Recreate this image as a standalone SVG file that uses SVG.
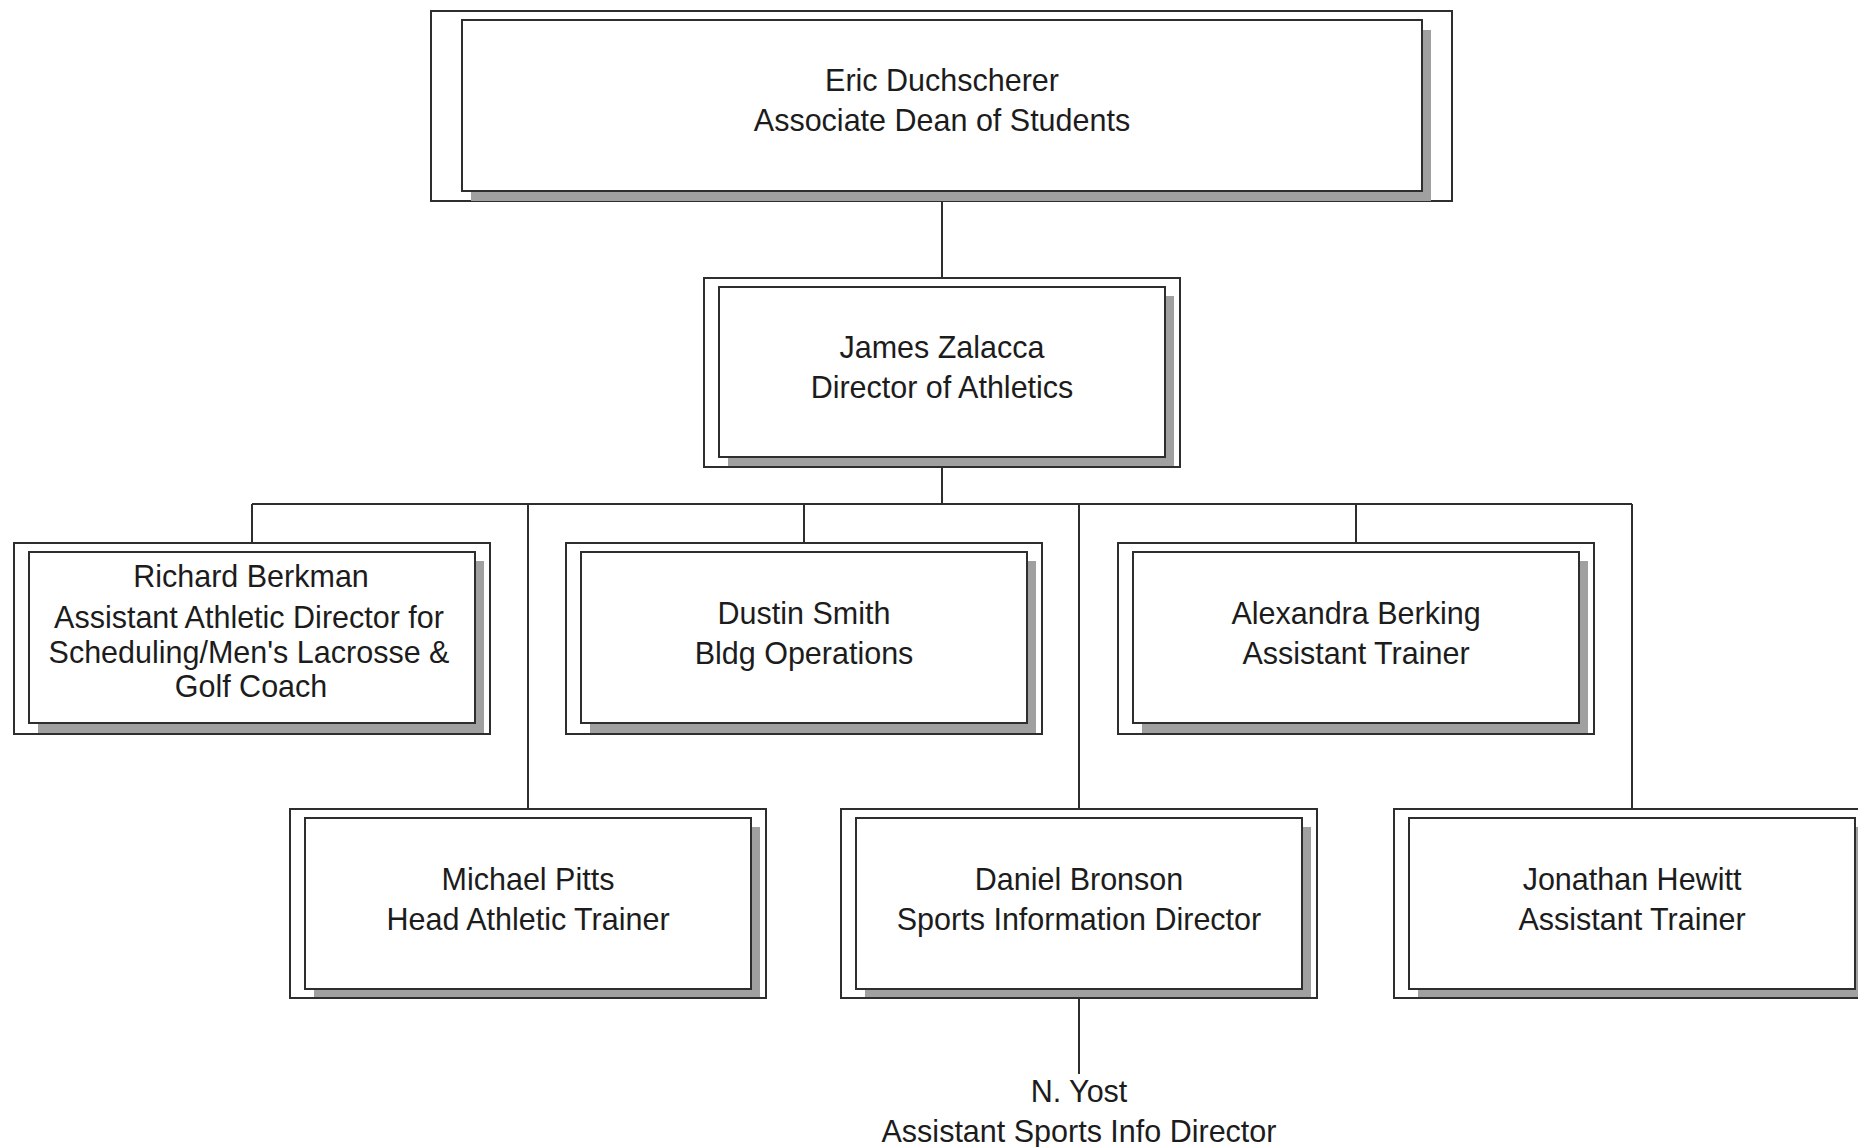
<svg xmlns="http://www.w3.org/2000/svg" width="1858" height="1147" viewBox="0 0 1858 1147">
<style>
.outer{fill:#ffffff;stroke:#2e2e2e;stroke-width:2}
.inner{fill:#ffffff;stroke:#2e2e2e;stroke-width:2}
.shadow{fill:#a0a0a0;stroke:none}
.lbl{font-family:"Liberation Sans",Arial,sans-serif;font-size:30.5px;fill:#1c1c1c;text-anchor:middle}
.conn{fill:none;stroke:#2e2e2e;stroke-width:2}
</style>
<rect x="0" y="0" width="1858" height="1147" fill="#ffffff"/>
<g id="connectors">
<path class="conn" d="M942 200 V278"/>
<path class="conn" d="M942 467 V504"/>
<path class="conn" d="M252 504 H1632"/>
<path class="conn" d="M252 504 V543"/>
<path class="conn" d="M528 504 V809"/>
<path class="conn" d="M804 504 V543"/>
<path class="conn" d="M1079 504 V809"/>
<path class="conn" d="M1356 504 V543"/>
<path class="conn" d="M1632 504 V809"/>
<path class="conn" d="M1079 998 V1074"/>
</g>
<g id="node-eric">
<rect class="outer" x="431" y="11" width="1021" height="190"/>
<rect class="shadow" x="471" y="30" width="960" height="171"/>
<rect class="inner" x="462" y="20" width="960" height="171"/>
<text class="lbl" x="942" y="90.5">Eric Duchscherer</text>
<text class="lbl" x="942" y="130.5">Associate Dean of Students</text>
</g>
<g id="node-james">
<rect class="outer" x="704" y="278" width="476" height="189"/>
<rect class="shadow" x="728" y="296" width="446" height="170"/>
<rect class="inner" x="719" y="287" width="446" height="170"/>
<text class="lbl" x="942" y="357.5">James Zalacca</text>
<text class="lbl" x="942" y="397.5">Director of Athletics</text>
</g>
<g id="node-richard">
<rect class="outer" x="14" y="543" width="476" height="191"/>
<rect class="shadow" x="38" y="561" width="446" height="172"/>
<rect class="inner" x="29" y="552" width="446" height="171"/>
<text class="lbl" x="251" y="587">Richard Berkman</text>
<text class="lbl" x="249" y="628">Assistant Athletic Director for</text>
<text class="lbl" x="249" y="662.5">Scheduling/Men's Lacrosse &amp;</text>
<text class="lbl" x="251" y="697">Golf Coach</text>
</g>
<g id="node-dustin">
<rect class="outer" x="566" y="543" width="476" height="191"/>
<rect class="shadow" x="590" y="561" width="446" height="172"/>
<rect class="inner" x="581" y="552" width="446" height="171"/>
<text class="lbl" x="804" y="623.5">Dustin Smith</text>
<text class="lbl" x="804" y="663.5">Bldg Operations</text>
</g>
<g id="node-alexandra">
<rect class="outer" x="1118" y="543" width="476" height="191"/>
<rect class="shadow" x="1142" y="561" width="446" height="172"/>
<rect class="inner" x="1133" y="552" width="446" height="171"/>
<text class="lbl" x="1356" y="623.5">Alexandra Berking</text>
<text class="lbl" x="1356" y="663.5">Assistant Trainer</text>
</g>
<g id="node-michael">
<rect class="outer" x="290" y="809" width="476" height="189"/>
<rect class="shadow" x="314" y="827" width="446" height="170"/>
<rect class="inner" x="305" y="818" width="446" height="171"/>
<text class="lbl" x="528" y="889.5">Michael Pitts</text>
<text class="lbl" x="528" y="929.5">Head Athletic Trainer</text>
</g>
<g id="node-daniel">
<rect class="outer" x="841" y="809" width="476" height="189"/>
<rect class="shadow" x="865" y="827" width="446" height="170"/>
<rect class="inner" x="856" y="818" width="446" height="171"/>
<text class="lbl" x="1079" y="889.5">Daniel Bronson</text>
<text class="lbl" x="1079" y="929.5">Sports Information Director</text>
</g>
<g id="node-jonathan">
<rect class="outer" x="1394" y="809" width="476" height="189"/>
<rect class="shadow" x="1418" y="827" width="446" height="170"/>
<rect class="inner" x="1409" y="818" width="446" height="171"/>
<text class="lbl" x="1632" y="889.5">Jonathan Hewitt</text>
<text class="lbl" x="1632" y="929.5">Assistant Trainer</text>
</g>
<g id="node-yost">
<text class="lbl" x="1079" y="1102">N. Yost</text>
<text class="lbl" x="1079" y="1141.5">Assistant Sports Info Director</text>
</g>
</svg>
